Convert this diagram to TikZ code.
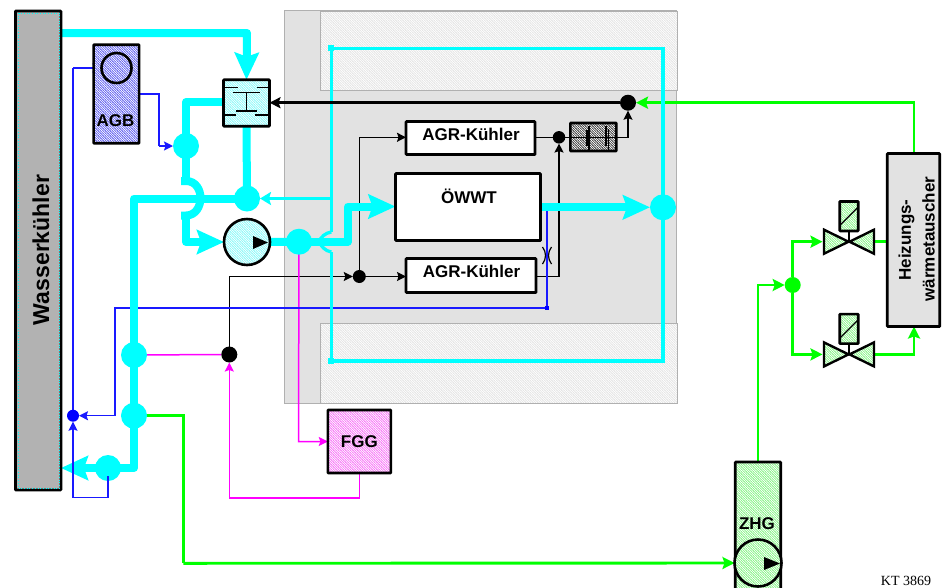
\documentclass[tikz,border=0pt]{standalone}
\usepackage{fontspec}
\setmainfont{Liberation Sans}
\newfontfamily\serifkt{Liberation Serif}
\usetikzlibrary{arrows.meta,calc,shapes.geometric,patterns}
\pgfdeclarelayer{back}
\pgfdeclarelayer{thin}
\pgfdeclarelayer{pipes}
\pgfsetlayers{back,thin,pipes,main}
\pgfdeclarepatternformonly{finehatch}{\pgfqpoint{-0.5pt}{-0.5pt}}{\pgfqpoint{2.9pt}{2.9pt}}{\pgfqpoint{2.4pt}{2.4pt}}{
  \pgfsetlinewidth{0.6pt}
  \pgfpathmoveto{\pgfqpoint{-0.5pt}{2.9pt}}
  \pgfpathlineto{\pgfqpoint{2.9pt}{-0.5pt}}
  \pgfusepath{stroke}}
\definecolor{wcyan}{RGB}{0,255,255}
\definecolor{wgreen}{RGB}{0,255,0}
\definecolor{wblue}{RGB}{25,25,255}
\definecolor{wmag}{RGB}{255,0,255}
\definecolor{panel}{RGB}{226,226,226}
\definecolor{panelline}{RGB}{176,176,176}
\definecolor{hatchpanel}{RGB}{228,228,228}
\definecolor{hatchcyan}{RGB}{135,250,250}
\definecolor{hatchgreen}{RGB}{135,245,135}
\definecolor{hatchblue}{RGB}{95,95,240}
\definecolor{hatchmag}{RGB}{248,115,248}
\definecolor{hatchdark}{RGB}{60,60,60}
\tikzset{
  hatched/.style={preaction={fill=white},pattern=finehatch,pattern color=#1},
  unit/.style={draw=black,line width=2.6pt,rounded corners=0.6pt,inner sep=0pt,outer sep=0pt,anchor=center},
  label16/.style={font=\fontsize{17}{19}\selectfont\bfseries,inner sep=0pt,text=black},
  dotc/.style={circle,fill=wcyan,minimum size=26pt,inner sep=0pt,outer sep=0pt},
  dotk/.style={circle,fill=black,inner sep=0pt,outer sep=0pt},
  dotg/.style={circle,fill=wgreen,minimum size=16pt,inner sep=0pt,outer sep=0pt},
  dotb/.style={circle,fill=blue,minimum size=12pt,inner sep=0pt,outer sep=0pt},
  thickpipe/.style={draw=wcyan,line width=8pt,line join=round},
  thinpipe/.style={draw=wcyan,line width=3.3pt},
  bigtip/.style={-{Stealth[length=27pt,width=24pt,inset=4pt]}},
  signal/.style={line width=1.5pt,line join=miter},
  smalltip/.style={-{Stealth[length=9pt,width=9pt,inset=1.5pt]}},
  greentip/.style={-{Stealth[length=12pt,width=12pt,inset=2pt]}},
  greenpipe/.style={draw=wgreen,line width=2.9pt},
}
\begin{document}
\begin{tikzpicture}[x=1pt,y=-1pt]
\useasboundingbox (0,0) rectangle (949,587);
% panels
\begin{pgfonlayer}{back}
  \node[draw=panelline,line width=1pt,fill=panel,minimum width=392.5pt,minimum height=392.5pt,inner sep=0pt,outer sep=0pt] (panelmain) at (480.7,207.2) {};
  \node[draw=panelline,line width=1pt,hatched=hatchpanel,minimum width=357pt,minimum height=79pt,inner sep=0pt,outer sep=0pt] (paneltop) at (498.5,50.5) {};
  \node[draw=panelline,line width=1pt,hatched=hatchpanel,minimum width=357pt,minimum height=80pt,inner sep=0pt,outer sep=0pt] (panelbot) at (498.5,363.5) {};
\end{pgfonlayer}

% units
\node[unit,fill=gray!60,minimum width=45.5pt,minimum height=479pt] (wk) at (38.2,250.5) {};
\draw[wcyan,line width=0.7pt,dotted] (18.5,13) rectangle (59.5,488);
\node[label16,font=\fontsize{23}{25}\selectfont\bfseries,rotate=90] (wktext) at (41,250) {Wasserkühler};

\node[unit,hatched=hatchblue,minimum width=45.5pt,minimum height=98.5pt] (agb) at (116.3,94) {};
\node[circle,draw=black,line width=2.6pt,hatched=hatchblue,minimum size=30pt,inner sep=0pt,outer sep=0pt] (agbc) at (116.5,68) {};
\node[label16] (agbt) at (115.5,121) {AGB};

\node[unit,hatched=hatchcyan,minimum width=46pt,minimum height=46.5pt] (mix) at (246.5,103) {};
\draw[black,line width=1.2pt]
  (225,87.5) -- (238,87.5) (257,87.5) -- (269,87.5)
  (233,92.5) -- (260,92.5) (246.5,92.5) -- (246.5,111)
  (236,111) -- (257,111)
  (225,115) -- (236,115) (255,115) -- (268,115);

\node[circle,draw=black,line width=2.6pt,hatched=hatchcyan,minimum size=46pt,inner sep=0pt,outer sep=0pt] (pump) at (247,242) {};
\fill[black] (253,236) -- (268,242.5) -- (253,249) -- cycle;

\node[unit,fill=white,minimum width=129pt,minimum height=33pt] (agro) at (470.5,138) {};
\node[label16] at (471,134.5) (agrot) {AGR-Kühler};
\node[unit,fill=white,minimum width=130pt,minimum height=34pt] (agru) at (471,275.5) {};
\node[label16] at (471.5,271.5) (agrut) {AGR-Kühler};
\node[unit,fill=white,minimum width=145pt,minimum height=67pt] (oewwt) at (468,207) {};
\node[label16] at (469,196) (oet) {ÖWWT};

\node[unit,hatched=hatchdark,minimum width=46pt,minimum height=28pt,line width=2.6pt] (ctrl) at (593.3,137) {};
\draw[black,line width=1.2pt]
  (570,137.5) -- (616,137.5)
  (589,126) -- (589,150)
  (587,130) -- (587,146)
  (606,126) -- (606,146) (608.5,129) -- (608.5,150);

\node[unit,hatched=hatchmag,minimum width=63pt,minimum height=63pt] (fgg) at (359.3,441.5) {};
\node[label16] (fggt) at (359.3,441.5) {FGG};

\node[unit,hatched=hatchgreen,minimum width=45.5pt,minimum height=140pt] (zhg) at (758,532) {};
\node[circle,draw=black,line width=2.6pt,hatched=hatchgreen,minimum size=47pt,inner sep=0pt,outer sep=0pt] (zhgp) at (758,563) {};
\fill[black] (764,557) -- (780,563.5) -- (764,570) -- cycle;
\node[label16] (zhgt) at (757,523.5) {ZHG};

\node[unit,fill=panel,minimum width=52.5pt,minimum height=173pt] (hwt) at (913.5,240) {};
\node[label16,rotate=90] (hwt1) at (906.5,240) {Heizungs-};
\node[label16,rotate=90] (hwt2) at (928.5,239) {wärmetauscher};

% valves
\foreach \n/\yy in {a/241.7,b/354.4}{
  \draw[black,line width=2.4pt,line join=miter,hatched=hatchgreen] (848.5,\yy) -- (824,{\yy-12}) -- (824,{\yy+12}) -- cycle;
  \draw[black,line width=2.4pt,line join=miter,hatched=hatchgreen] (849.5,\yy) -- (874,{\yy-12}) -- (874,{\yy+12}) -- cycle;
  \draw[black,line width=1.2pt] (849,{\yy-10}) -- (849,{\yy-1});
  \node[unit,hatched=hatchgreen,minimum width=18.5pt,minimum height=29.5pt] (sol\n) at (849,{\yy-25.5}) {};
  \draw[black,line width=1.2pt] (840.5,{\yy-17}) -- (857.5,{\yy-34});
}
\coordinate (vla) at (822.5,241.7);
\coordinate (vra) at (875,241.7);
\coordinate (vlb) at (822.5,354.4);
\coordinate (vrb) at (875,354.4);

% junctions
\node[dotc] (jt) at (186,146) {};
\node[dotc] (jm) at (247,198.5) {};
\node[dotc] (jp) at (299,241.7) {};
\node[dotc] (ja) at (134,355) {};
\node[dotc] (jb) at (134,415.7) {};
\node[dotc] (jc) at (108,468) {};
\node[dotc] (jr) at (663,207.3) {};
\node[dotk,minimum size=16pt] (kmag) at (229.3,354.5) {};
\node[dotk,minimum size=13pt] (kagr) at (359.3,276.5) {};
\node[dotk,minimum size=12.5pt] (kctl) at (559,137.3) {};
\node[dotk,minimum size=16pt] (kheat) at (628,102.7) {};
\node[dotb] (bj) at (73,415.7) {};
\node[dotg] (gj) at (792.7,285) {};
\node[fill=blue,minimum size=4pt,inner sep=0pt] (bq) at (547,308) {};
\node[fill=wcyan,minimum size=6pt,inner sep=0pt] (sqt) at (331.3,48.3) {};
\node[fill=wcyan,minimum size=6pt,inner sep=0pt] (sqb) at (331.3,361) {};

% thin signal lines (behind pipes)
\begin{pgfonlayer}{thin}
  \draw[signal,draw=black,smalltip] (kmag.north) -- (229.3,276.5) -- (kagr.west);
  \draw[signal,draw=black,smalltip] (kagr.east) -- (agru.west |- kagr.east);
  \draw[signal,draw=black,smalltip] (kagr.north) -- (359.3,137.3) -- (agro.west |- 0,137.3);
  \draw[signal,draw=black] (agro.east |- kctl.west) -- (kctl.west);
  \draw[signal,draw=black] (kctl.east) -- (ctrl.west |- kctl.east);
  \draw[signal,draw=black,smalltip] (ctrl.east |- 0,137.3) -- (628,137.3) -- (kheat.south);
  \draw[signal,draw=black,smalltip] (agru.east |- 0,276.5) -- (559,276.5) -- (kctl.south);
  \draw[signal,draw=wmag] (ja.center) -- (kmag.west);
  \draw[signal,draw=wmag,smalltip] (fgg.south) -- (359.3,498) -- (229.3,498) -- (kmag.south);
  \draw[signal,draw=wmag,smalltip] (jp.center) -- (298.5,441.5) -- (fgg.west);
  \draw[signal,draw=wblue] (bj.north) -- (73,68);
  \draw[signal,draw=wblue,smalltip] (73,68) -- (agbc.west);
  \draw[signal,draw=wblue] (agb.east |- 0,94) -- (159,94) -- (159,146);
  \draw[signal,draw=wblue,smalltip] (159,146) -- (jt.west);
  \draw[signal,draw=wblue,smalltip] (bq.center) -- (115,308) -- (115,415.7) -- (bj.east);
  \draw[signal,draw=wblue] (bq.center) -- (547,206.5) -- (oewwt.east |- 0,206.5);
\end{pgfonlayer}

% coolant pipes
\begin{pgfonlayer}{pipes}
  \draw[thickpipe,bigtip] (wk.east |- 0,33) -- (247,33) -- (mix.north);
  \draw[thickpipe] (226,102) -- (186,102) -- (jt.center) -- (186,181);
  \draw[thickpipe,line cap=butt] (181,181) -- (186,181) .. controls (196,181) and (200.5,190) .. (200.5,198) .. controls (200.5,206) and (196,215.5) .. (186,215.5) -- (181,215.5);
  \draw[thickpipe,bigtip] (186,215.5) -- (186,242) -- (pump.west);
  \draw[thickpipe] (mix.south) -- (jm.center);
  \draw[thickpipe] (jm.center) -- (134,198.5) -- (134,468) -- (jc.center);
  \draw[thickpipe,bigtip] (jc.center) -- (wk.east |- jc.center);
  \draw[thickpipe] (pump.east) -- (jp.center);
  \draw[thickpipe,bigtip] (jp.center) -- (348,241.7) -- (348,206.5) -- (oewwt.west |- 0,206.5);
  \draw[thickpipe,bigtip] (oewwt.east |- 0,207.3) -- (jr.west);
  \draw[thinpipe,-{Stealth[length=11pt,width=13pt,inset=2pt]}] (331.3,198.5) -- (jm.east);
  \draw[thinpipe,line join=miter] (331.3,232) -- (sqt.center) -- (663,48.3) -- (663,361) -- (sqb.center) -- (331.3,252);
  \draw[thinpipe] (331.3,232) .. controls (325,233) and (321,237) .. (319,241.7) .. controls (321,246) and (325,251) .. (331.3,252);
\end{pgfonlayer}

% lines on top
\draw[signal,draw=wblue,smalltip] (jc.center) ++(0,8) -- (108,497.7) -- (73,497.7) -- (bj.south);
\draw[black,line width=2.8pt,-{Stealth[length=11pt,width=11pt,inset=2pt]}] (kheat.west) -- (mix.east |- kheat.west);

% green circuit
\begin{pgfonlayer}{thin}
  \draw[greenpipe] (jb.center) -- (183.3,415.7) -- (183.3,563.3);
  \draw[greenpipe,greentip] (183.3,563.3) -- (zhgp.west);
  \draw[greenpipe,greentip] (zhg.north) -- (758,285) -- (gj.west);
  \draw[greenpipe,greentip] (gj.north) -- (792.7,241.7) -- (vla);
  \draw[greenpipe,greentip] (gj.south) -- (792.7,354.4) -- (vlb);
  \draw[greenpipe] (vra) -- (hwt.west |- vra);
  \draw[greenpipe,greentip] (vrb) -- (914,354.4) -- (914,326.5);
  \draw[greenpipe,greentip] (914,153.5) -- (914,102.7) -- (kheat.east);
\end{pgfonlayer}

% restrictor
\draw[black,line width=1.2pt] (542.5,247) .. controls (546.5,252) and (546.5,259) .. (542.5,264)
  (551.5,247) .. controls (547.5,252) and (547.5,259) .. (551.5,264);

\node[font=\serifkt\fontsize{14}{16}\selectfont,anchor=base,inner sep=0pt] (kt) at (906,585.5) {KT 3869};
\end{tikzpicture}
\end{document}
